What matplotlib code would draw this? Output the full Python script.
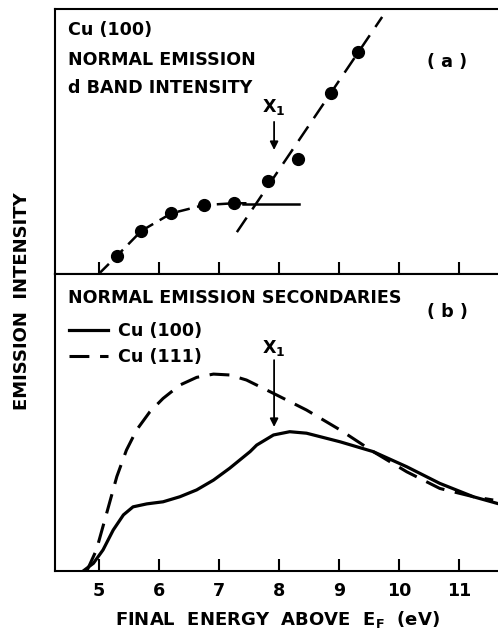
import matplotlib
matplotlib.use("Agg")
import matplotlib.pyplot as plt

plt.rcParams['font.family'] = ['DejaVu Sans']
plt.rcParams['font.weight'] = 'bold'
plt.rcParams['mathtext.fontset'] = 'dejavusans'
plt.rcParams['mathtext.default'] = 'bf'

# (a) d band intensity, Cu(100)
pts_e = [5.30, 5.71, 6.21, 6.75, 7.25, 7.82, 8.32, 8.87, 9.32]
pts_i = [0.68, 1.63, 2.29, 2.60, 2.67, 3.51, 4.34, 6.83, 8.38]

low_fit_e = [5.02, 5.30, 5.71, 6.21, 6.75, 7.25, 7.46]
low_fit_i = [0.05, 0.68, 1.63, 2.29, 2.60, 2.67, 2.67]

plateau_e = [7.40, 8.33]
plateau_i = [2.66, 2.66]

steep_e = [7.30, 9.72]
steep_i = [1.58, 9.70]

# (b) normal emission secondaries
e100 = [4.74, 4.91, 5.07, 5.24, 5.41, 5.57, 5.80, 6.07, 6.35, 6.63, 6.91,
        7.18, 7.52, 7.63, 7.91, 8.18, 8.46, 9.02, 9.57, 10.13, 10.68, 11.24,
        11.63]
i100 = [0.00, 0.26, 0.71, 1.38, 1.89, 2.16, 2.26, 2.33, 2.50, 2.73, 3.06,
        3.46, 4.02, 4.24, 4.58, 4.69, 4.64, 4.35, 4.02, 3.51, 2.95, 2.50,
        2.28]

e111 = [4.80, 4.96, 5.13, 5.30, 5.46, 5.63, 5.85, 6.07, 6.35, 6.63, 6.91,
        7.18, 7.46, 7.91, 8.46, 9.02, 9.57, 10.13, 10.68, 11.24, 11.57]
i111 = [0.00, 0.71, 1.94, 3.18, 4.07, 4.75, 5.36, 5.81, 6.26, 6.52, 6.63,
        6.60, 6.43, 5.98, 5.42, 4.75, 4.02, 3.34, 2.78, 2.50, 2.39]

xticks = [5, 6, 7, 8, 9, 10, 11]
x1_energy = 7.92

fs = 12.6
W, H = 498, 634
fig = plt.figure(figsize=(W / 100, H / 100), dpi=100)
left = 55 / W
ha_px, hb_px = 265, 297
axa = fig.add_axes([left, 1 - 274 / H, 1 - left, ha_px / H])
axb = fig.add_axes([left, 1 - 571 / H, 1 - left, hb_px / H], sharex=axa)

for ax in (axa, axb):
    ax.set_xlim(4.27, 11.65)
    ax.set_ylim(0, 10)
    ax.spines['right'].set_visible(False)
    for s in ('left', 'top', 'bottom'):
        ax.spines[s].set_linewidth(1.5)
    ax.set_yticks([])
    ax.set_xticks(xticks)
    ax.tick_params(axis='x', direction='in', length=9, width=1.5, pad=8,
                   labelsize=fs)

axa.tick_params(axis='x', labelbottom=False)
axb.set_xticklabels([str(t) for t in xticks], fontweight='bold')

# panel (a)
axa.plot(low_fit_e, low_fit_i, 'k', lw=1.8, dashes=(5, 3))
axa.plot(steep_e, steep_i, 'k', lw=1.8, dashes=(7, 4))
axa.plot(plateau_e, plateau_i, 'k', lw=1.8)
axa.plot(pts_e, pts_i, 'o', color='k', ms=8.5)

def ya(py):
    return 1 - (py - 9) / ha_px

axa.text(0.03, ya(30), 'Cu (100)', transform=axa.transAxes,
         fontsize=fs, va='center')
axa.text(0.03, ya(60), 'NORMAL EMISSION', transform=axa.transAxes,
         fontsize=fs, va='center')
axa.text(0.03, ya(88), 'd BAND INTENSITY', transform=axa.transAxes,
         fontsize=fs, va='center')
axa.text(0.885, ya(62), '( a )', transform=axa.transAxes,
         fontsize=fs, va='center', ha='center')
axa.text(x1_energy, 6.3, r'X$_1$', fontsize=fs, ha='center', va='center')
axa.annotate('', xy=(x1_energy, 4.68), xytext=(x1_energy, 5.74),
             arrowprops=dict(arrowstyle='-|>', lw=1.3, color='k',
                             mutation_scale=12, shrinkA=0, shrinkB=0))

# panel (b)
axb.plot(e100, i100, 'k', lw=2.3, label='Cu (100)')
axb.plot(e111, i111, 'k', lw=2.2, dashes=(6.5, 3.5), label='Cu (111)')
axb.text(0.03, 1 - 24 / hb_px, 'NORMAL EMISSION SECONDARIES',
         transform=axb.transAxes, fontsize=fs, va='center')
axb.text(0.885, 1 - 38 / hb_px, '( b )', transform=axb.transAxes,
         fontsize=fs, va='center', ha='center')
axb.legend(loc='upper left', bbox_to_anchor=(0.005, 1 - 36 / hb_px),
           frameon=False, fontsize=fs, handlelength=2.2, handletextpad=0.55,
           labelspacing=0.45, borderaxespad=0.3)
axb.text(x1_energy, 7.51, r'X$_1$', fontsize=fs, ha='center', va='center')
axb.annotate('', xy=(x1_energy, 4.85), xytext=(x1_energy, 7.10),
             arrowprops=dict(arrowstyle='-|>', lw=1.3, color='k',
                             mutation_scale=12, shrinkA=0, shrinkB=0))

fig.text(22 / W, 1 - 301 / H, 'EMISSION  INTENSITY', rotation=90,
         fontsize=13, ha='center', va='center')
fig.text(277 / W, 1 - 620 / H, r'FINAL  ENERGY  ABOVE  E$_F$  (eV)',
         fontsize=13, ha='center', va='center')

fig.savefig('out.png', dpi=100)
